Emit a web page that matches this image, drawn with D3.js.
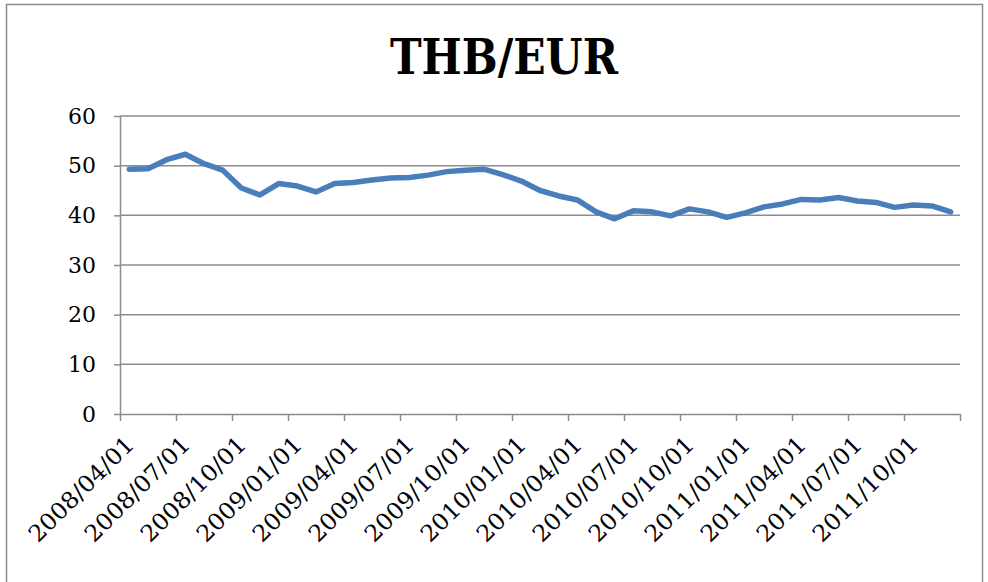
<!DOCTYPE html>
<html>
<head>
<meta charset="utf-8">
<script src="https://cdn.jsdelivr.net/npm/d3@7"></script>
<style>
  html, body { margin: 0; padding: 0; background: #ffffff; }
  svg { display: block; }
</style>
</head>
<body>
<svg id="chart" width="988" height="582"></svg>
<script>
const title = "THB/EUR";
const months = [
  "2008/04/01","2008/05/01","2008/06/01","2008/07/01","2008/08/01","2008/09/01",
  "2008/10/01","2008/11/01","2008/12/01","2009/01/01","2009/02/01","2009/03/01",
  "2009/04/01","2009/05/01","2009/06/01","2009/07/01","2009/08/01","2009/09/01",
  "2009/10/01","2009/11/01","2009/12/01","2010/01/01","2010/02/01","2010/03/01",
  "2010/04/01","2010/05/01","2010/06/01","2010/07/01","2010/08/01","2010/09/01",
  "2010/10/01","2010/11/01","2010/12/01","2011/01/01","2011/02/01","2011/03/01",
  "2011/04/01","2011/05/01","2011/06/01","2011/07/01","2011/08/01","2011/09/01",
  "2011/10/01","2011/11/01","2011/12/01"
];
const rates = [
  49.3, 49.4, 51.2, 52.3, 50.4, 49.1,
  45.5, 44.1, 46.4, 45.9, 44.7, 46.4,
  46.6, 47.1, 47.5, 47.6, 48.1, 48.8,
  49.1, 49.3, 48.2, 46.9, 45.0, 43.9,
  43.1, 40.7, 39.3, 40.9, 40.7, 39.9,
  41.3, 40.7, 39.6, 40.5, 41.7, 42.3,
  43.2, 43.1, 43.6, 42.9, 42.6, 41.6,
  42.1, 41.9, 40.7
];
const tickLabels = [
  "2008/04/01","2008/07/01","2008/10/01","2009/01/01","2009/04/01",
  "2009/07/01","2009/10/01","2010/01/01","2010/04/01","2010/07/01",
  "2010/10/01","2011/01/01","2011/04/01","2011/07/01","2011/10/01"
];
const yTicks = [0, 10, 20, 30, 40, 50, 60];

const svg = d3.select("#chart");
const plotLeft = 120, plotRight = 960, plotTop = 116, plotBottom = 414;
const grey = "#8c8c8c";
const serif = "'DejaVu Serif', serif";

// outer border
svg.append("rect")
  .attr("x", 6.5).attr("y", 4.5).attr("width", 976).attr("height", 610)
  .attr("fill", "none").attr("stroke", grey).attr("stroke-width", 1.5);

// title
svg.append("text")
  .attr("x", 504).attr("y", 74)
  .attr("text-anchor", "middle")
  .attr("font-family", serif).attr("font-weight", "bold")
  .attr("font-size", 48)
  .attr("textLength", 228).attr("lengthAdjust", "spacingAndGlyphs")
  .attr("fill", "#000")
  .text(title);

const x = d3.scaleLinear().domain([0, months.length]).range([plotLeft, plotRight]);
const y = d3.scaleLinear().domain([0, 60]).range([plotBottom, plotTop]);

// gridlines
svg.append("g").selectAll("line").data(yTicks.filter(v => v > 0)).join("line")
  .attr("x1", plotLeft).attr("x2", plotRight)
  .attr("y1", d => y(d)).attr("y2", d => y(d))
  .attr("stroke", grey).attr("stroke-width", 1.5);

// y axis
const yAxis = svg.append("g")
  .attr("transform", `translate(${plotLeft},0)`)
  .call(d3.axisLeft(y).tickValues(yTicks).tickSize(6).tickPadding(18).tickSizeOuter(0));
yAxis.select(".domain").attr("stroke", grey).attr("stroke-width", 1.5);
yAxis.selectAll(".tick line").attr("stroke", grey).attr("stroke-width", 1.5);
yAxis.selectAll("text")
  .attr("font-family", serif).attr("font-size", 22).attr("fill", "#000");

// x axis
const tickIdx = d3.range(0, months.length + 1, 3);
const xAxis = svg.append("g")
  .attr("transform", `translate(0,${plotBottom})`)
  .call(d3.axisBottom(x).tickValues(tickIdx).tickSize(7).tickSizeOuter(0)
    .tickFormat((d, i) => tickLabels[i] || ""));
xAxis.select(".domain").attr("stroke", grey).attr("stroke-width", 1.5);
xAxis.selectAll(".tick line").attr("stroke", grey).attr("stroke-width", 1.5);
xAxis.selectAll("text")
  .attr("font-family", serif).attr("font-size", 23).attr("fill", "#000")
  .attr("text-anchor", "end")
  .attr("x", 0).attr("y", 0).attr("dy", 0)
  .attr("transform", "translate(15,32) rotate(-45)")
  .filter(function() { return this.textContent !== ""; })
  .attr("textLength", 138).attr("lengthAdjust", "spacingAndGlyphs");

// line
const line = d3.line()
  .x((d, i) => x(i + 0.5))
  .y(d => y(d));
svg.append("path")
  .datum(rates)
  .attr("d", line)
  .attr("fill", "none")
  .attr("stroke", "#4a7ebb")
  .attr("stroke-width", 5.5)
  .attr("stroke-linejoin", "round")
  .attr("stroke-linecap", "round");
</script>
</body>
</html>
